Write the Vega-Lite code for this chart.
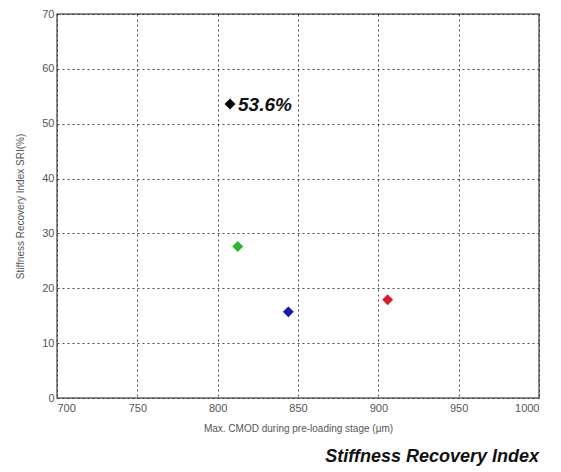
{
  "$schema": "https://vega.github.io/schema/vega-lite/v6.json",
  "width": 482,
  "height": 384,
  "autosize": "none",
  "padding": {"left": 57, "top": 14, "right": 22, "bottom": 74},
  "background": "white",
  "title": {
    "text": "Stiffness Recovery Index",
    "orient": "bottom",
    "anchor": "end",
    "font": "Liberation Sans",
    "fontSize": 18,
    "fontWeight": "bold",
    "fontStyle": "italic",
    "color": "#111",
    "offset": 15
  },
  "config": {
    "view": {"stroke": "#666", "strokeWidth": 1.5},
    "axis": {
      "labelFont": "Liberation Sans",
      "titleFont": "Liberation Sans",
      "labelFontSize": 11,
      "titleFontSize": 10,
      "labelColor": "#555",
      "titleColor": "#555",
      "titleFontWeight": "normal",
      "grid": true,
      "gridColor": "#222",
      "gridDash": [2, 3],
      "gridWidth": 1,
      "gridOpacity": 0.8,
      "domain": false,
      "ticks": false
    }
  },
  "data": {
    "values": [
      {"cmod": 807.7, "sri": 53.6, "grp": "A", "label": "53.6%"},
      {"cmod": 812.5, "sri": 27.6, "grp": "B", "label": ""},
      {"cmod": 844, "sri": 15.7, "grp": "C", "label": ""},
      {"cmod": 905.8, "sri": 17.9, "grp": "D", "label": ""}
    ]
  },
  "encoding": {
    "x": {
      "field": "cmod", "type": "quantitative",
      "scale": {"domain": [700, 1000], "nice": false},
      "axis": {"values": [700, 750, 800, 850, 900, 950, 1000], "format": "d", "title": "Max. CMOD during pre-loading stage (μm)", "titlePadding": 10, "labelPadding": 4}
    },
    "y": {
      "field": "sri", "type": "quantitative",
      "scale": {"domain": [0, 70], "nice": false},
      "axis": {"values": [0, 10, 20, 30, 40, 50, 60, 70], "title": "Stiffness Recovery Index SRI(%)", "titlePadding": 16, "labelPadding": 3}
    }
  },
  "layer": [
    {
      "mark": {"type": "point", "shape": "diamond", "filled": true, "size": 120, "opacity": 1},
      "encoding": {
        "color": {
          "field": "grp", "type": "nominal",
          "scale": {"domain": ["A", "B", "C", "D"], "range": ["#000000", "#2fb52f", "#1a1aa8", "#d42030"]},
          "legend": null
        }
      }
    },
    {
      "mark": {"type": "text", "align": "left", "baseline": "middle", "dx": 8, "dy": 1, "font": "Liberation Sans", "fontSize": 19, "fontWeight": "bold", "fontStyle": "italic", "color": "#111"},
      "encoding": {"text": {"field": "label"}}
    }
  ]
}
